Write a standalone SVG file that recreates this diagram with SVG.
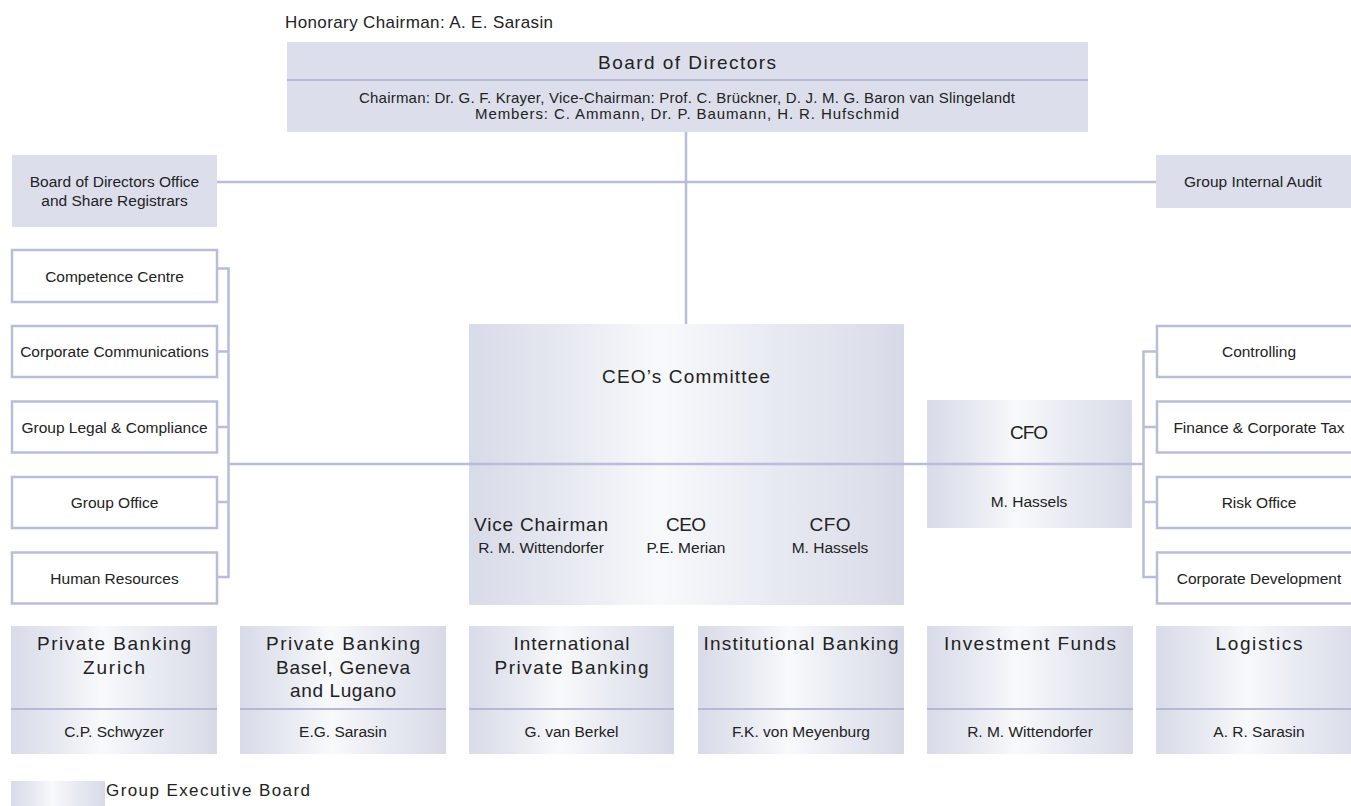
<svg xmlns="http://www.w3.org/2000/svg" width="1351" height="806" viewBox="0 0 1351 806">
  <defs>
    <linearGradient id="geb" x1="0" y1="0" x2="1" y2="0">
      <stop offset="0" stop-color="#d8dbe8"/>
      <stop offset="0.2" stop-color="#e5e7f0"/>
      <stop offset="0.44" stop-color="#f8f9fb"/>
      <stop offset="0.7" stop-color="#e8eaf2"/>
      <stop offset="0.93" stop-color="#dcdfea"/>
      <stop offset="1" stop-color="#d6d9e6"/>
    </linearGradient>
    <style>
      text { font-family: "Liberation Sans", Arial, sans-serif; fill: #222; }
      .flat { fill: #dcdfeb; }
      .grad { fill: url(#geb); }
      .unit { fill: #fff; stroke: #b8bdd9; stroke-width: 2.5; }
      .rule { stroke: #b4b9d4; stroke-width: 2; fill: none; }
      .link { stroke: #b8bdd9; stroke-width: 2.5; fill: none; }
      .c { text-anchor: middle; }
      .t19 { font-size: 19px; }
      .t15 { font-size: 15.5px; }
      .n { font-size: 15.5px; }
      .s14 { font-size: 15px; }
    </style>
  </defs>

  <!-- top: honorary chairman and board -->
  <text id="honorary" x="285" y="28" font-size="17" textLength="268" lengthAdjust="spacing">Honorary Chairman: A. E. Sarasin</text>

  <g id="board">
    <rect class="flat" x="287" y="42" width="801" height="90"/>
    <line class="rule" x1="287" y1="80" x2="1088" y2="80"/>
    <text class="c t19" x="687" y="69" textLength="178" lengthAdjust="spacing">Board of Directors</text>
    <text class="c s14" x="687" y="103" textLength="656" lengthAdjust="spacing">Chairman: Dr. G. F. Krayer, Vice-Chairman: Prof. C. Brückner, D. J. M. G. Baron van Slingelandt</text>
    <text class="c s14" x="687" y="118.5" textLength="424" lengthAdjust="spacing">Members: C. Ammann, Dr. P. Baumann, H. R. Hufschmid</text>
  </g>

  <g id="bod-office">
    <rect class="flat" x="12" y="155" width="205" height="72"/>
    <text class="c t15" x="114.5" y="187">Board of Directors Office</text>
    <text class="c t15" x="114.5" y="206">and Share Registrars</text>
  </g>

  <g id="internal-audit">
    <rect class="flat" x="1156" y="155" width="200" height="53"/>
    <text class="c t15" x="1253" y="187">Group Internal Audit</text>
  </g>

  <!-- staff units, left -->
  <g id="competence-centre">
    <rect class="unit" x="12" y="250" width="205" height="52"/>
    <text class="c t15" x="114.5" y="281.5">Competence Centre</text>
  </g>
  <g id="corporate-communications">
    <rect class="unit" x="12" y="326" width="205" height="51"/>
    <text class="c t15" x="114.5" y="357">Corporate Communications</text>
  </g>
  <g id="group-legal">
    <rect class="unit" x="12" y="401.5" width="205" height="51"/>
    <text class="c t15" x="114.5" y="432.5">Group Legal &amp; Compliance</text>
  </g>
  <g id="group-office">
    <rect class="unit" x="12" y="477" width="205" height="51"/>
    <text class="c t15" x="114.5" y="507.5">Group Office</text>
  </g>
  <g id="human-resources">
    <rect class="unit" x="12" y="552.5" width="205" height="51"/>
    <text class="c t15" x="114.5" y="583.5">Human Resources</text>
  </g>

  <!-- CEO's committee -->
  <g id="ceo-committee">
    <rect class="grad" x="469" y="324" width="435" height="281"/>
    <text class="c t19" x="686" y="383" textLength="168" lengthAdjust="spacing">CEO’s Committee</text>
    <text class="c t19" x="541" y="531" textLength="134" lengthAdjust="spacing">Vice Chairman</text>
    <text class="c n" x="541" y="553">R. M. Wittendorfer</text>
    <text class="c t19" x="686" y="531" textLength="40" lengthAdjust="spacing">CEO</text>
    <text class="c n" x="686" y="553">P.E. Merian</text>
    <text class="c t19" x="830" y="531" textLength="41" lengthAdjust="spacing">CFO</text>
    <text class="c n" x="830" y="553">M. Hassels</text>
  </g>

  <!-- CFO -->
  <g id="cfo">
    <rect class="grad" x="927" y="400" width="205" height="128"/>
    <text class="c t19" x="1029" y="439" textLength="38" lengthAdjust="spacing">CFO</text>
    <text class="c n" x="1029" y="507">M. Hassels</text>
  </g>

  <!-- finance units, right -->
  <g id="controlling">
    <rect class="unit" x="1157" y="326" width="205" height="51"/>
    <text class="c t15" x="1259" y="357">Controlling</text>
  </g>
  <g id="finance-tax">
    <rect class="unit" x="1157" y="401.5" width="205" height="51"/>
    <text class="c t15" x="1259" y="432.5">Finance &amp; Corporate Tax</text>
  </g>
  <g id="risk-office">
    <rect class="unit" x="1157" y="477" width="205" height="51"/>
    <text class="c t15" x="1259" y="507.5">Risk Office</text>
  </g>
  <g id="corporate-development">
    <rect class="unit" x="1157" y="552.5" width="205" height="51"/>
    <text class="c t15" x="1259" y="583.5">Corporate Development</text>
  </g>

  <!-- Group Executive Board divisions -->
  <g id="pb-zurich">
    <rect class="grad" x="11" y="626" width="206" height="128"/>
    <line class="rule" x1="11" y1="709" x2="217" y2="709"/>
    <text class="c t19" x="114" y="650" textLength="154" lengthAdjust="spacing">Private Banking</text>
    <text class="c t19" x="114" y="673.5" textLength="62" lengthAdjust="spacing">Zurich</text>
    <text class="c n" x="114" y="737">C.P.  Schwyzer</text>
  </g>
  <g id="pb-basel">
    <rect class="grad" x="240" y="626" width="206" height="128"/>
    <line class="rule" x1="240" y1="709" x2="446" y2="709"/>
    <text class="c t19" x="343" y="650" textLength="154" lengthAdjust="spacing">Private Banking</text>
    <text class="c t19" x="343" y="673.5" textLength="134" lengthAdjust="spacing">Basel, Geneva</text>
    <text class="c t19" x="343" y="697" textLength="106" lengthAdjust="spacing">and Lugano</text>
    <text class="c n" x="343" y="737">E.G. Sarasin</text>
  </g>
  <g id="intl-pb">
    <rect class="grad" x="469" y="626" width="205" height="128"/>
    <line class="rule" x1="469" y1="709" x2="674" y2="709"/>
    <text class="c t19" x="571.5" y="650" textLength="116" lengthAdjust="spacing">International</text>
    <text class="c t19" x="571.5" y="673.5" textLength="154" lengthAdjust="spacing">Private Banking</text>
    <text class="c n" x="571.5" y="737">G. van Berkel</text>
  </g>
  <g id="institutional">
    <rect class="grad" x="698" y="626" width="206" height="128"/>
    <line class="rule" x1="698" y1="709" x2="904" y2="709"/>
    <text class="c t19" x="801" y="650" textLength="195" lengthAdjust="spacing">Institutional Banking</text>
    <text class="c n" x="801" y="737">F.K. von Meyenburg</text>
  </g>
  <g id="investment-funds">
    <rect class="grad" x="927" y="626" width="206" height="128"/>
    <line class="rule" x1="927" y1="709" x2="1133" y2="709"/>
    <text class="c t19" x="1030" y="650" textLength="172" lengthAdjust="spacing">Investment Funds</text>
    <text class="c n" x="1030" y="737">R. M. Wittendorfer</text>
  </g>
  <g id="logistics">
    <rect class="grad" x="1156" y="626" width="206" height="128"/>
    <line class="rule" x1="1156" y1="709" x2="1362" y2="709"/>
    <text class="c t19" x="1259" y="650" textLength="87" lengthAdjust="spacing">Logistics</text>
    <text class="c n" x="1259" y="737">A. R. Sarasin</text>
  </g>

  <!-- legend -->
  <g id="legend">
    <rect class="grad" x="11" y="781" width="94" height="30"/>
    <text x="106" y="796" font-size="17" textLength="204" lengthAdjust="spacing">Group Executive Board</text>
  </g>

  <!-- reporting lines -->
  <g id="connectors">
    <line class="link" x1="686" y1="132" x2="686" y2="324"/>
    <line class="link" x1="217" y1="182" x2="1156" y2="182"/>
    <line class="link" x1="228" y1="464" x2="1143" y2="464"/>
    <path class="link" d="M217 268.5 H228.5 V577 H217 M217 351.5 H228.5 M217 427 H228.5 M217 502 H228.5"/>
    <path class="link" d="M1157 351.5 H1143.5 V577 H1157 M1143.5 427 H1157 M1143.5 502 H1157"/>
  </g>
</svg>
